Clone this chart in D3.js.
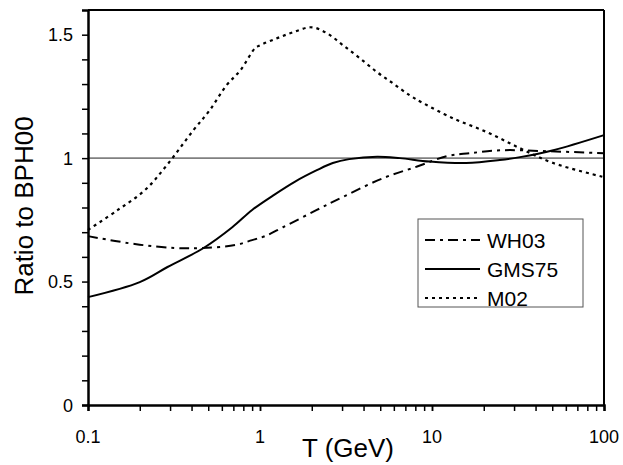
<!DOCTYPE html>
<html><head><meta charset="utf-8">
<script src="https://cdn.jsdelivr.net/npm/d3@7"></script>
<style>body{margin:0;background:#fff}svg{display:block}text{font-family:"Liberation Sans",Arial,sans-serif}</style>
</head><body>
<svg id="c" width="623" height="465"></svg>
<script>
const xTickLabels = ["0.1", "1", "10", "100"];
const yTickLabels = ["0", "0.5", "1", "1.5"];
const seriesNames = ["WH03", "GMS75", "M02"];

const wh03T = [0.1, 0.187, 0.32, 0.46, 0.72, 0.9, 1.07, 1.36, 2.14, 3.04, 5.2, 8.2, 12.2, 16.6, 25.7, 46.5, 100];
const wh03V = [0.684, 0.652, 0.636, 0.636, 0.648, 0.668, 0.684, 0.72, 0.79, 0.843, 0.919, 0.966, 1.008, 1.02, 1.032, 1.028, 1.02];

const gmsT = [0.1, 0.2, 0.29, 0.47, 0.69, 0.9, 1.2, 1.6, 2.14, 2.65, 3.3, 4.8, 6.5, 9.7, 15.8, 24.8, 32.5, 50.7, 100];
const gmsV = [0.437, 0.498, 0.559, 0.636, 0.72, 0.79, 0.85, 0.905, 0.951, 0.98, 0.996, 1.006, 1.0, 0.986, 0.98, 0.992, 1.004, 1.032, 1.093];

const m02T = [0.1, 0.149, 0.214, 0.29, 0.41, 0.51, 0.64, 0.77, 0.935, 1.0, 1.26, 1.56, 2.0, 2.45, 3.04, 3.8, 4.8, 5.9, 7.4, 8.87, 13.2, 20.9, 32.5, 50.7, 100];
const m02V = [0.709, 0.79, 0.87, 0.975, 1.113, 1.194, 1.296, 1.356, 1.445, 1.457, 1.486, 1.51, 1.53, 1.506, 1.457, 1.405, 1.348, 1.304, 1.255, 1.223, 1.162, 1.105, 1.04, 0.98, 0.923];

const svg = d3.select("#c");
const L = 88, R = 604, T = 10, B = 405;
const x = d3.scaleLog().domain([0.1, 100]).range([L, R]);
const y = d3.scaleLinear().domain([0, 1.6]).range([B, T]);

// reference line at 1
svg.append("line").attr("x1", L).attr("x2", R).attr("y1", y(1)).attr("y2", y(1))
  .attr("stroke", "#808080").attr("stroke-width", 1.6);

// frame top/right
svg.append("line").attr("x1", L).attr("x2", R).attr("y1", T).attr("y2", T).attr("stroke", "#000").attr("stroke-width", 2);
svg.append("line").attr("x1", R).attr("x2", R).attr("y1", T).attr("y2", B).attr("stroke", "#000").attr("stroke-width", 2);

// x axis
const xMinor = [];
for (let d = 0.1; d < 100; d *= 10) for (let k = 1; k <= 10; k++) xMinor.push(+(d * k).toPrecision(3));
const xAxis = svg.append("g").attr("transform", `translate(0,${B})`)
  .call(d3.axisBottom(x).tickValues(xMinor).tickSize(6).tickFormat(() => ""));
xAxis.select(".domain").attr("stroke-width", 2.5);
xAxis.selectAll(".tick line").attr("stroke-width", 1.5);
svg.selectAll(".xl").data(xTickLabels).enter().append("text")
  .attr("x", d => x(+d)).attr("y", 443).attr("text-anchor", "middle")
  .attr("font-size", 18).text(d => d);

// y axis
const yMinor = d3.range(0, 16).map(i => i / 10);
const yAxis = svg.append("g").attr("transform", `translate(${L},0)`)
  .call(d3.axisLeft(y).tickValues(yMinor).tickSize(6).tickFormat(() => ""));
yAxis.select(".domain").attr("stroke-width", 2.5);
yAxis.selectAll(".tick line").attr("stroke-width", 1.5);
svg.selectAll(".yl").data(yTickLabels).enter().append("text")
  .attr("x", 73).attr("y", d => y(+d) + 6.5).attr("text-anchor", "end")
  .attr("font-size", 18).text(d => d);

// titles
svg.append("text").attr("x", 348).attr("y", 457).attr("text-anchor", "middle")
  .attr("font-size", 26).text("T (GeV)");
svg.append("text").attr("transform", "translate(33,206) rotate(-90)").attr("text-anchor", "middle")
  .attr("font-size", 26).text("Ratio to BPH00");

// curves
const styles = [
  {dash: "10,5,3,5", w: 2},
  {dash: null, w: 2},
  {dash: "3,4", w: 2.2}
];
const data = [
  d3.zip(wh03T, wh03V),
  d3.zip(gmsT, gmsV),
  d3.zip(m02T, m02V)
];
const line = d3.line().x(d => x(d[0])).y(d => y(d[1])).curve(d3.curveCatmullRom.alpha(0.5));
data.forEach((pts, i) => {
  svg.append("path").attr("d", line(pts)).attr("fill", "none").attr("stroke", "#000")
    .attr("stroke-width", styles[i].w).attr("stroke-dasharray", styles[i].dash);
});

// legend
const lg = svg.append("g");
lg.append("rect").attr("x", 418).attr("y", 219).attr("width", 165).attr("height", 88)
  .attr("fill", "#fff").attr("stroke", "#555").attr("stroke-width", 1);
const rowsY = [240, 269, 298];
seriesNames.forEach((n, i) => {
  lg.append("line").attr("x1", 425).attr("x2", 480).attr("y1", rowsY[i]).attr("y2", rowsY[i])
    .attr("stroke", "#000").attr("stroke-width", styles[i].w).attr("stroke-dasharray", styles[i].dash);
  lg.append("text").attr("x", 487).attr("y", rowsY[i] + 7.5).attr("font-size", 21).text(n);
});
</script>
</body></html>
